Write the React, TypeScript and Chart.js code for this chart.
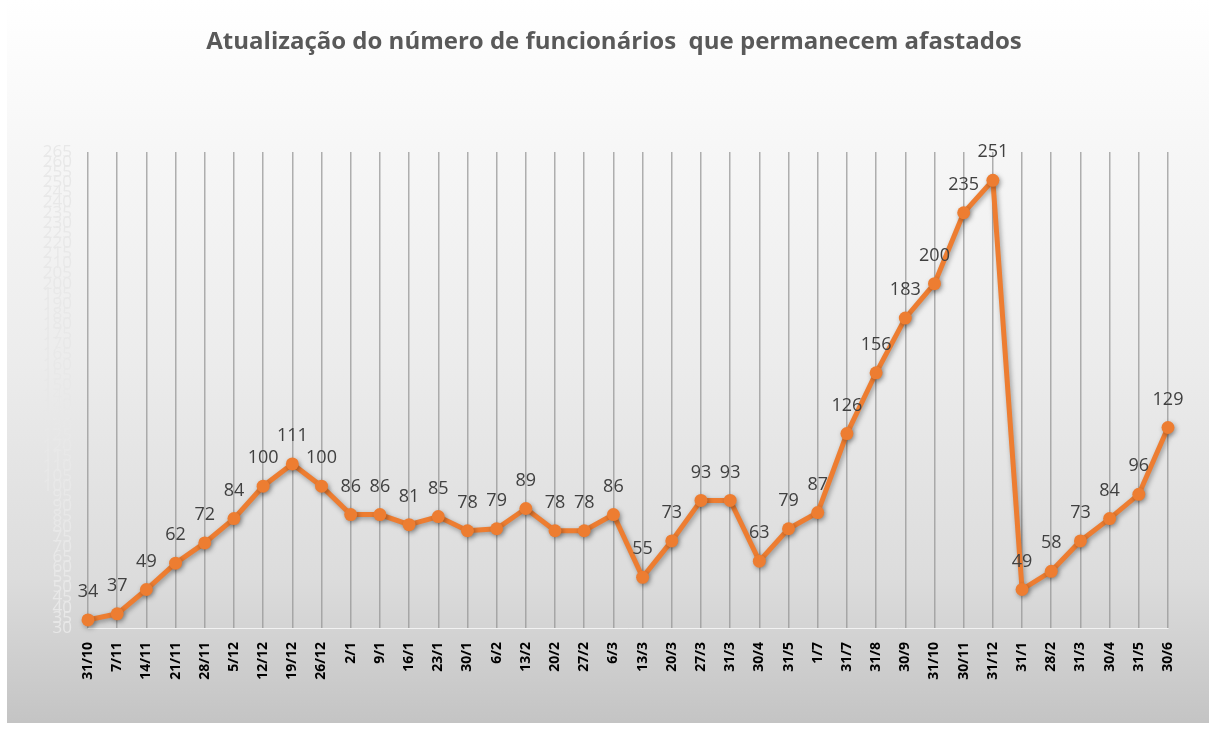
import React, { useEffect, useRef } from "react";
import { Chart, registerables } from "chart.js";

Chart.register(...registerables);

const categories = [
  "31/10", "7/11", "14/11", "21/11", "28/11", "5/12", "12/12", "19/12", "26/12",
  "2/1", "9/1", "16/1", "23/1", "30/1", "6/2", "13/2", "20/2", "27/2", "6/3",
  "13/3", "20/3", "27/3", "31/3", "30/4", "31/5", "1/7", "31/7", "31/8", "30/9",
  "31/10", "30/11", "31/12", "31/1", "28/2", "31/3", "30/4", "31/5", "30/6",
];

const afastados = [
  34, 37, 49, 62, 72, 84, 100, 111, 100,
  86, 86, 81, 85, 78, 79, 89, 78, 78, 86,
  55, 73, 93, 93, 63, 79, 87, 126, 156, 183,
  200, 235, 251, 49, 58, 73, 84, 96, 129,
];

const titleText = "Atualização do número de funcionários  que permanecem afastados";
const yMin = 30;
const yMax = 265;
const yStep = 5;

const labelsPlugin = {
  id: "pointLabels",
  beforeDatasetDraw(chart: any) {
    const ctx = chart.ctx;
    ctx.save();
    ctx.shadowColor = "rgba(0,0,0,0.35)";
    ctx.shadowBlur = 5;
    ctx.shadowOffsetX = 1.5;
    ctx.shadowOffsetY = 2;
  },
  afterDatasetDraw(chart: any) {
    chart.ctx.restore();
  },
  afterDatasetsDraw(chart: any) {
    const ctx = chart.ctx;
    const meta = chart.getDatasetMeta(0);
    const data = chart.data.datasets[0].data;
    ctx.save();
    ctx.font = '18px "Open Sans"';
    ctx.fillStyle = "#404040";
    ctx.textAlign = "center";
    ctx.textBaseline = "middle";
    meta.data.forEach((pt: any, i: number) => {
      ctx.fillText(String(data[i]), pt.x, pt.y - 28);
    });
    ctx.restore();
  },
  afterDraw(chart: any) {
    const ctx = chart.ctx;
    ctx.save();
    ctx.font = 'bold 24px "Open Sans"';
    ctx.fillStyle = "#595959";
    ctx.textAlign = "center";
    ctx.textBaseline = "middle";
    ctx.fillText(titleText, chart.width / 2 + 6, 42);
    ctx.restore();
  },
};

export default function App() {
  const ref = useRef<HTMLCanvasElement | null>(null);

  useEffect(() => {
    if (!ref.current) return;
    const chart = new Chart(ref.current, {
      type: "line",
      data: {
        labels: categories,
        datasets: [
          {
            data: afastados,
            borderColor: "#ED7D31",
            backgroundColor: "#ED7D31",
            borderWidth: 5,
            pointRadius: 6.5,
            pointHoverRadius: 6.5,
            pointBackgroundColor: "#ED7D31",
            pointBorderColor: "#ED7D31",
            pointBorderWidth: 0,
            tension: 0,
            clip: false as any,
          },
        ],
      },
      plugins: [labelsPlugin],
      options: {
        animation: false,
        responsive: false,
        maintainAspectRatio: false,
        layout: { padding: { left: 0, right: 41, top: 152, bottom: 0 } },
        plugins: {
          legend: { display: false },
          tooltip: { enabled: false },
          title: { display: false },
        },
        scales: {
          x: {
            offset: false,
            grid: {
              display: true,
              color: "rgba(150,150,150,0.75)",
              lineWidth: 1.5,
              drawTicks: false,
            },
            border: { display: true, color: "rgba(255,255,255,0.7)", width: 1 },
            ticks: {
              autoSkip: false,
              maxRotation: 90,
              minRotation: 90,
              padding: 14,
              color: "#000000",
              font: { family: "Open Sans", size: 14, weight: "bold" },
            },
            afterFit(scale: any) {
              scale.height = 95;
            },
          },
          y: {
            min: yMin,
            max: yMax,
            grid: { display: false, drawTicks: false },
            border: { display: false },
            ticks: {
              stepSize: yStep,
              autoSkip: false,
              padding: 16,
              color: "#e8e8e8",
              font: { family: "Open Sans", size: 17 },
            },
            afterFit(scale: any) {
              scale.width = 81;
            },
          },
        },
      },
    });
    return () => chart.destroy();
  }, []);

  return (
    <div
      style={{
        position: "fixed",
        left: 7,
        top: 0,
        width: 1202,
        height: 723,
        background:
          "linear-gradient(to bottom, #ffffff 0%, #f6f6f6 22%, #ececec 50%, #dcdcdc 80%, #c4c4c4 100%)",
      }}
    >
      <canvas ref={ref} width={1202} height={723} style={{ display: "block" }} />
    </div>
  );
}
